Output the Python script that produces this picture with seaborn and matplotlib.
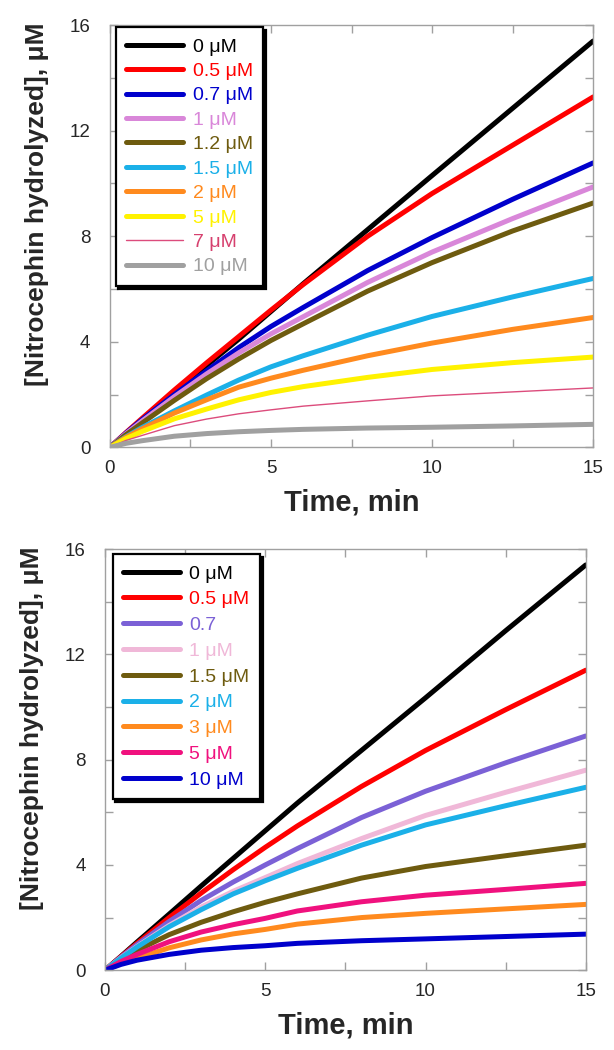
import matplotlib
matplotlib.use("Agg")
import numpy as np
import pandas as pd
import matplotlib.pyplot as plt
from matplotlib.ticker import MultipleLocator
import seaborn as sns

# ── Data ───────────────────────────────────────────────────────────────
TIME = [0, 0.5, 1, 2, 3, 4, 5, 6, 8, 10, 12.5, 15]

TOP_LABELS = ["0 μM", "0.5 μM", "0.7 μM", "1 μM", "1.2 μM",
              "1.5 μM", "2 μM", "5 μM", "7 μM", "10 μM"]
TOP_0   = [0, 0.50, 1.00, 2.05, 3.10, 4.10, 5.15, 6.20, 8.25, 10.30, 12.85, 15.40]
TOP_05  = [0, 0.56, 1.10, 2.17, 3.20, 4.20, 5.20, 6.17, 8.00, 9.62, 11.45, 13.28]
TOP_07  = [0, 0.54, 1.05, 2.00, 2.90, 3.78, 4.58, 5.30, 6.70, 7.95, 9.40, 10.78]
TOP_1   = [0, 0.52, 1.00, 1.92, 2.78, 3.58, 4.30, 4.95, 6.25, 7.40, 8.67, 9.87]
TOP_12  = [0, 0.48, 0.92, 1.78, 2.60, 3.35, 4.05, 4.68, 5.92, 7.00, 8.20, 9.26]
TOP_15  = [0, 0.40, 0.75, 1.38, 1.98, 2.55, 3.05, 3.47, 4.25, 4.96, 5.70, 6.40]
TOP_2   = [0, 0.38, 0.70, 1.30, 1.80, 2.28, 2.62, 2.92, 3.47, 3.95, 4.47, 4.92]
TOP_5   = [0, 0.33, 0.60, 1.08, 1.45, 1.80, 2.08, 2.30, 2.65, 2.95, 3.21, 3.42]
TOP_7   = [0, 0.26, 0.45, 0.82, 1.07, 1.27, 1.42, 1.56, 1.76, 1.95, 2.10, 2.25]
TOP_10  = [0, 0.15, 0.25, 0.42, 0.52, 0.59, 0.64, 0.68, 0.73, 0.76, 0.81, 0.87]

BOT_LABELS = ["0 μM", "0.5 μM", "0.7", "1 μM", "1.5 μM",
              "2 μM", "3 μM", "5 μM", "10 μM"]
BOT_0   = [0, 0.53, 1.07, 2.13, 3.20, 4.25, 5.30, 6.35, 8.35, 10.35, 12.90, 15.40]
BOT_05  = [0, 0.52, 1.02, 2.00, 2.93, 3.82, 4.67, 5.48, 6.98, 8.35, 9.90, 11.40]
BOT_07  = [0, 0.50, 0.97, 1.85, 2.65, 3.35, 4.00, 4.62, 5.80, 6.80, 7.88, 8.90]
BOT_1   = [0, 0.47, 0.90, 1.70, 2.40, 3.00, 3.52, 4.05, 5.00, 5.88, 6.76, 7.60]
BOT_15  = [0, 0.40, 0.75, 1.35, 1.82, 2.22, 2.58, 2.90, 3.50, 3.94, 4.35, 4.75]
BOT_2   = [0, 0.46, 0.88, 1.65, 2.30, 2.90, 3.40, 3.87, 4.75, 5.52, 6.25, 6.95]
BOT_3   = [0, 0.25, 0.45, 0.85, 1.15, 1.38, 1.55, 1.75, 2.00, 2.16, 2.33, 2.50]
BOT_5   = [0, 0.33, 0.60, 1.08, 1.45, 1.73, 1.97, 2.25, 2.60, 2.85, 3.07, 3.30]
BOT_10  = [0, 0.22, 0.38, 0.60, 0.76, 0.86, 0.93, 1.02, 1.12, 1.19, 1.28, 1.37]

TOP_SERIES = [TOP_0, TOP_05, TOP_07, TOP_1, TOP_12, TOP_15, TOP_2, TOP_5, TOP_7, TOP_10]
BOT_SERIES = [BOT_0, BOT_05, BOT_07, BOT_1, BOT_15, BOT_2, BOT_3, BOT_5, BOT_10]

# ── Styles ─────────────────────────────────────────────────────────────
TOP_COLORS = ["#000000", "#FF0000", "#0000CC", "#D987D9", "#6E5B0F",
              "#1BB0E8", "#FF8A1E", "#FFF200", "#DC4C7C", "#A0A0A0"]
TOP_TEXT   = ["#000000", "#FF0000", "#0000CC", "#D987D9", "#6E5B0F",
              "#1BB0E8", "#FF8A1E", "#FFF200", "#D6406E", "#A0A0A0"]
TOP_LW     = [3.6, 3.6, 3.6, 3.6, 3.6, 3.6, 3.6, 3.6, 1.0, 3.6]

BOT_COLORS = ["#000000", "#FF0000", "#7B61D6", "#F0B8D8", "#6E5B0F",
              "#1BB0E8", "#FF8A1E", "#F0117E", "#0000CC"]
BOT_LW     = [3.6] * 9

sns.set_style("ticks")
plt.rcParams["font.family"] = ["Liberation Sans", "DejaVu Sans"]
SPINE = "#A0A0A0"


def draw_panel(ax, series, labels, colors, text_colors, widths, anchor, spacing):
    for vals, lab, c, lw in zip(series, labels, colors, widths):
        sns.lineplot(x=TIME, y=vals, color=c, lw=lw, label=lab, ax=ax,
                     solid_joinstyle="round", solid_capstyle="round")

    ax.set_xlim(0, 15); ax.set_ylim(0, 16)
    ax.xaxis.set_major_locator(MultipleLocator(5))
    ax.xaxis.set_minor_locator(MultipleLocator(2.5))
    ax.yaxis.set_major_locator(MultipleLocator(4))
    ax.yaxis.set_minor_locator(MultipleLocator(2))
    ax.tick_params(which="both", direction="in", top=True, right=True,
                   color=SPINE, length=6, width=1, labelsize=13.5)
    ax.tick_params(axis="y", pad=14)
    ax.tick_params(axis="x", pad=9)
    for sp in ax.spines.values():
        sp.set_visible(True); sp.set_edgecolor(SPINE); sp.set_linewidth(1)

    ax.set_xlabel("Time, min", fontsize=21, fontweight="bold")
    ax.set_ylabel("[Nitrocephin hydrolyzed], μM", fontsize=19, fontweight="bold")
    ax.xaxis.set_label_coords(0.5, -0.097)
    ax.yaxis.set_label_coords(-0.127, 0.575)

    leg = ax.legend(loc="upper left", bbox_to_anchor=anchor, borderaxespad=0,
                    frameon=True, fancybox=False, framealpha=1,
                    shadow={"color": "black", "alpha": 1},
                    edgecolor="black", fontsize=14, handlelength=2.9,
                    handletextpad=0.5, labelspacing=spacing, borderpad=0.55)
    leg.get_frame().set_linewidth(1.6)
    for txt, c in zip(leg.get_texts(), text_colors):
        txt.set_color(c)


fig = plt.figure(figsize=(6.14, 10.5), dpi=100)
ax1 = fig.add_axes([0.179, 0.574, 0.787, 0.402])
ax2 = fig.add_axes([0.171, 0.076, 0.783, 0.401])

draw_panel(ax1, TOP_SERIES, TOP_LABELS, TOP_COLORS, TOP_TEXT, TOP_LW,
           (0.012, 0.995), 0.35)
draw_panel(ax2, BOT_SERIES, BOT_LABELS, BOT_COLORS, BOT_COLORS, BOT_LW,
           (0.016, 0.988), 0.42)

fig.savefig("out.png", dpi=100, facecolor="white")
